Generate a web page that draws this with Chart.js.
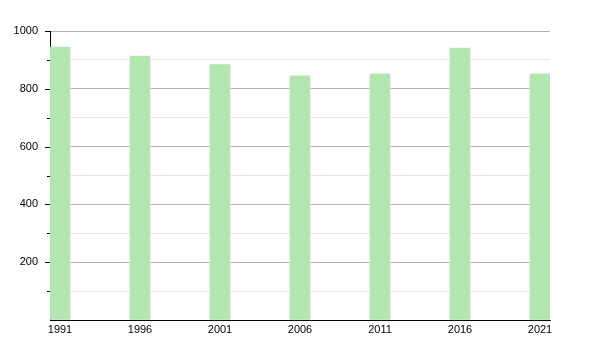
<!DOCTYPE html>
<html>
<head>
<meta charset="utf-8">
<script src="https://cdn.jsdelivr.net/npm/chart.js@4/dist/chart.umd.min.js"></script>
<style>
html,body{margin:0;padding:0;background:#fff;}
#c{display:block;}
</style>
</head>
<body>
<canvas id="c" width="600" height="350"></canvas>
<script>
const years = [1991, 1996, 2001, 2006, 2011, 2016, 2021];
const population = [944, 913, 884, 845, 852, 941, 852];
const yMajorTicks = [200, 400, 600, 800, 1000];

const minorTicks = {
  id: 'minorTicks',
  afterDraw(chart) {
    const s = chart.scales.y;
    const ctx = chart.ctx;
    ctx.save();
    ctx.strokeStyle = '#000';
    ctx.lineWidth = 1;
    for (let v = 100; v <= 1000; v += 100) {
      const y = Math.round(s.getPixelForValue(v)) + 0.5;
      const len = (v % 200 === 0) ? 5 : 3;
      ctx.beginPath();
      ctx.moveTo(s.right - len, y);
      ctx.lineTo(s.right, y);
      ctx.stroke();
    }
    ctx.restore();
  }
};

new Chart(document.getElementById('c'), {
  type: 'bar',
  data: {
    datasets: [{
      data: years.map((yr, i) => ({ x: yr, y: population[i] })),
      backgroundColor: '#b3e5b1',
      borderWidth: 0,
      barThickness: 20
    }]
  },
  options: {
    responsive: false,
    animation: false,
    devicePixelRatio: 1,
    layout: { padding: { left: 0, right: 50, top: 31, bottom: 0 } },
    plugins: { legend: { display: false }, tooltip: { enabled: false } },
    scales: {
      x: {
        type: 'linear',
        offset: false,
        min: 1991 - 0.625,
        max: 2021 + 0.625,
        afterBuildTicks: (scale) => { scale.ticks = years.map(v => ({ value: v })); },
        afterFit: (scale) => { scale.height = 30; },
        grid: { display: false, drawTicks: false, offset: false },
        border: { display: true, color: '#000', width: 1 },
        ticks: {
          autoSkip: false,
          maxRotation: 0,
          padding: 3,
          color: '#000',
          font: { family: 'Liberation Sans, Arial, sans-serif', size: 11 },
          callback: (v) => String(v)
        }
      },
      y: {
        min: 0,
        max: 1000,
        afterBuildTicks: (scale) => {
          const t = [];
          for (let v = 0; v <= 1000; v += 100) t.push({ value: v });
          scale.ticks = t;
        },
        afterFit: (scale) => { scale.width = 50; },
        grid: {
          drawTicks: false,
          color: (c) => (c.tick && c.tick.value % 200 === 0) ? '#b0b0b0' : '#e4e4e4',
          lineWidth: 1
        },
        border: { display: true, color: '#000', width: 1 },
        ticks: {
          padding: 12,
          color: '#000',
          font: { family: 'Liberation Sans, Arial, sans-serif', size: 11 },
          callback: (v) => yMajorTicks.includes(v) ? String(v) : ''
        }
      }
    }
  },
  plugins: [minorTicks]
});
</script>
</body>
</html>
